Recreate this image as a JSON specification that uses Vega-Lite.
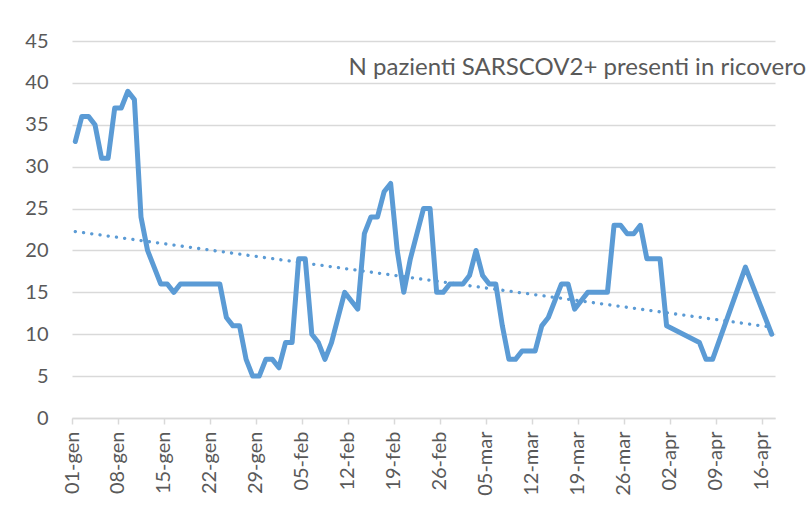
{
  "$schema": "https://vega.github.io/schema/vega-lite/v6.json",
  "width": 703,
  "height": 377,
  "autosize": {"type": "none"},
  "padding": {"left": 72, "top": 41, "right": 37, "bottom": 87},
  "background": "white",
  "title": {
    "text": "N pazienti SARSCOV2+ presenti in ricovero",
    "anchor": "end",
    "frame": "group",
    "offset": -49,
    "dx": 31,
    "font": "Lato",
    "fontSize": 24,
    "fontWeight": "normal",
    "color": "#595959"
  },
  "data": {
    "format": {"parse": {"date": "date"}},
    "values": [
      {"date": "2021-01-01", "n": 33}, {"date": "2021-01-02", "n": 36}, {"date": "2021-01-03", "n": 36},
      {"date": "2021-01-04", "n": 35}, {"date": "2021-01-05", "n": 31}, {"date": "2021-01-06", "n": 31},
      {"date": "2021-01-07", "n": 37}, {"date": "2021-01-08", "n": 37}, {"date": "2021-01-09", "n": 39},
      {"date": "2021-01-10", "n": 38}, {"date": "2021-01-11", "n": 24}, {"date": "2021-01-12", "n": 20},
      {"date": "2021-01-13", "n": 18}, {"date": "2021-01-14", "n": 16}, {"date": "2021-01-15", "n": 16},
      {"date": "2021-01-16", "n": 15}, {"date": "2021-01-17", "n": 16}, {"date": "2021-01-18", "n": 16},
      {"date": "2021-01-19", "n": 16}, {"date": "2021-01-20", "n": 16}, {"date": "2021-01-21", "n": 16},
      {"date": "2021-01-22", "n": 16}, {"date": "2021-01-23", "n": 16}, {"date": "2021-01-24", "n": 12},
      {"date": "2021-01-25", "n": 11}, {"date": "2021-01-26", "n": 11}, {"date": "2021-01-27", "n": 7},
      {"date": "2021-01-28", "n": 5}, {"date": "2021-01-29", "n": 5}, {"date": "2021-01-30", "n": 7},
      {"date": "2021-01-31", "n": 7}, {"date": "2021-02-01", "n": 6}, {"date": "2021-02-02", "n": 9},
      {"date": "2021-02-03", "n": 9}, {"date": "2021-02-04", "n": 19}, {"date": "2021-02-05", "n": 19},
      {"date": "2021-02-06", "n": 10}, {"date": "2021-02-07", "n": 9}, {"date": "2021-02-08", "n": 7},
      {"date": "2021-02-09", "n": 9}, {"date": "2021-02-10", "n": 12}, {"date": "2021-02-11", "n": 15},
      {"date": "2021-02-12", "n": 14}, {"date": "2021-02-13", "n": 13}, {"date": "2021-02-14", "n": 22},
      {"date": "2021-02-15", "n": 24}, {"date": "2021-02-16", "n": 24}, {"date": "2021-02-17", "n": 27},
      {"date": "2021-02-18", "n": 28}, {"date": "2021-02-19", "n": 20}, {"date": "2021-02-20", "n": 15},
      {"date": "2021-02-21", "n": 19}, {"date": "2021-02-22", "n": 22}, {"date": "2021-02-23", "n": 25},
      {"date": "2021-02-24", "n": 25}, {"date": "2021-02-25", "n": 15}, {"date": "2021-02-26", "n": 15},
      {"date": "2021-02-27", "n": 16}, {"date": "2021-02-28", "n": 16}, {"date": "2021-03-01", "n": 16},
      {"date": "2021-03-02", "n": 17}, {"date": "2021-03-03", "n": 20}, {"date": "2021-03-04", "n": 17},
      {"date": "2021-03-05", "n": 16}, {"date": "2021-03-06", "n": 16}, {"date": "2021-03-07", "n": 11},
      {"date": "2021-03-08", "n": 7}, {"date": "2021-03-09", "n": 7}, {"date": "2021-03-10", "n": 8},
      {"date": "2021-03-11", "n": 8}, {"date": "2021-03-12", "n": 8}, {"date": "2021-03-13", "n": 11},
      {"date": "2021-03-14", "n": 12}, {"date": "2021-03-15", "n": 14}, {"date": "2021-03-16", "n": 16},
      {"date": "2021-03-17", "n": 16}, {"date": "2021-03-18", "n": 13}, {"date": "2021-03-19", "n": 14},
      {"date": "2021-03-20", "n": 15}, {"date": "2021-03-21", "n": 15}, {"date": "2021-03-22", "n": 15},
      {"date": "2021-03-23", "n": 15}, {"date": "2021-03-24", "n": 23}, {"date": "2021-03-25", "n": 23},
      {"date": "2021-03-26", "n": 22}, {"date": "2021-03-27", "n": 22}, {"date": "2021-03-28", "n": 23},
      {"date": "2021-03-29", "n": 19}, {"date": "2021-03-30", "n": 19}, {"date": "2021-03-31", "n": 19},
      {"date": "2021-04-01", "n": 11}, {"date": "2021-04-06", "n": 9}, {"date": "2021-04-07", "n": 7},
      {"date": "2021-04-08", "n": 7}, {"date": "2021-04-13", "n": 18}, {"date": "2021-04-17", "n": 10}
    ]
  },
  "encoding": {
    "x": {
      "field": "date",
      "type": "temporal",
      "timeUnit": "utcyearmonthdate",
      "bandPosition": 0.5,
      "title": null,
      "scale": {
        "type": "utc",
        "domain": [
          {"year": 2021, "month": 1, "date": 1, "utc": true},
          {"year": 2021, "month": 4, "date": 18, "utc": true}
        ]
      },
      "axis": {
        "values": [
          {"year": 2021, "month": 1, "date": 1, "utc": true},
          {"year": 2021, "month": 1, "date": 8, "utc": true},
          {"year": 2021, "month": 1, "date": 15, "utc": true},
          {"year": 2021, "month": 1, "date": 22, "utc": true},
          {"year": 2021, "month": 1, "date": 29, "utc": true},
          {"year": 2021, "month": 2, "date": 5, "utc": true},
          {"year": 2021, "month": 2, "date": 12, "utc": true},
          {"year": 2021, "month": 2, "date": 19, "utc": true},
          {"year": 2021, "month": 2, "date": 26, "utc": true},
          {"year": 2021, "month": 3, "date": 5, "utc": true},
          {"year": 2021, "month": 3, "date": 12, "utc": true},
          {"year": 2021, "month": 3, "date": 19, "utc": true},
          {"year": 2021, "month": 3, "date": 26, "utc": true},
          {"year": 2021, "month": 4, "date": 2, "utc": true},
          {"year": 2021, "month": 4, "date": 9, "utc": true},
          {"year": 2021, "month": 4, "date": 16, "utc": true}
        ],
        "labelExpr": "utcFormat(datum.value, '%d') + '-' + ['gen','feb','mar','apr','mag'][utcmonth(datum.value)]",
        "labelAngle": -90,
        "labelFont": "Lato",
        "labelFontSize": 20,
        "labelColor": "#595959",
        "labelPadding": 7,
        "labelOverlap": false,
        "labelFlush": false,
        "grid": false,
        "domainColor": "#D9D9D9",
        "domainWidth": 1.5,
        "tickColor": "#D9D9D9",
        "tickWidth": 1.5,
        "tickSize": 6
      }
    },
    "y": {
      "field": "n",
      "type": "quantitative",
      "title": null,
      "scale": {"domain": [0, 45], "nice": false, "zero": true},
      "axis": {
        "values": [0, 5, 10, 15, 20, 25, 30, 35, 40, 45],
        "labelFont": "Lato",
        "labelFontSize": 20,
        "labelColor": "#595959",
        "labelPadding": 24,
        "ticks": false,
        "domain": false,
        "grid": true,
        "gridColor": "#D9D9D9",
        "gridWidth": 1.5
      }
    }
  },
  "layer": [
    {
      "mark": {"type": "line", "color": "#5B9BD5", "strokeWidth": 5, "strokeJoin": "round", "strokeCap": "round"}
    },
    {
      "transform": [{"regression": "n", "on": "date"}],
      "mark": {"type": "line", "color": "#5B9BD5", "strokeWidth": 3.3, "strokeDash": [0.1, 8.2], "strokeCap": "round"}
    }
  ],
  "config": {
    "view": {"stroke": null}
  }
}
